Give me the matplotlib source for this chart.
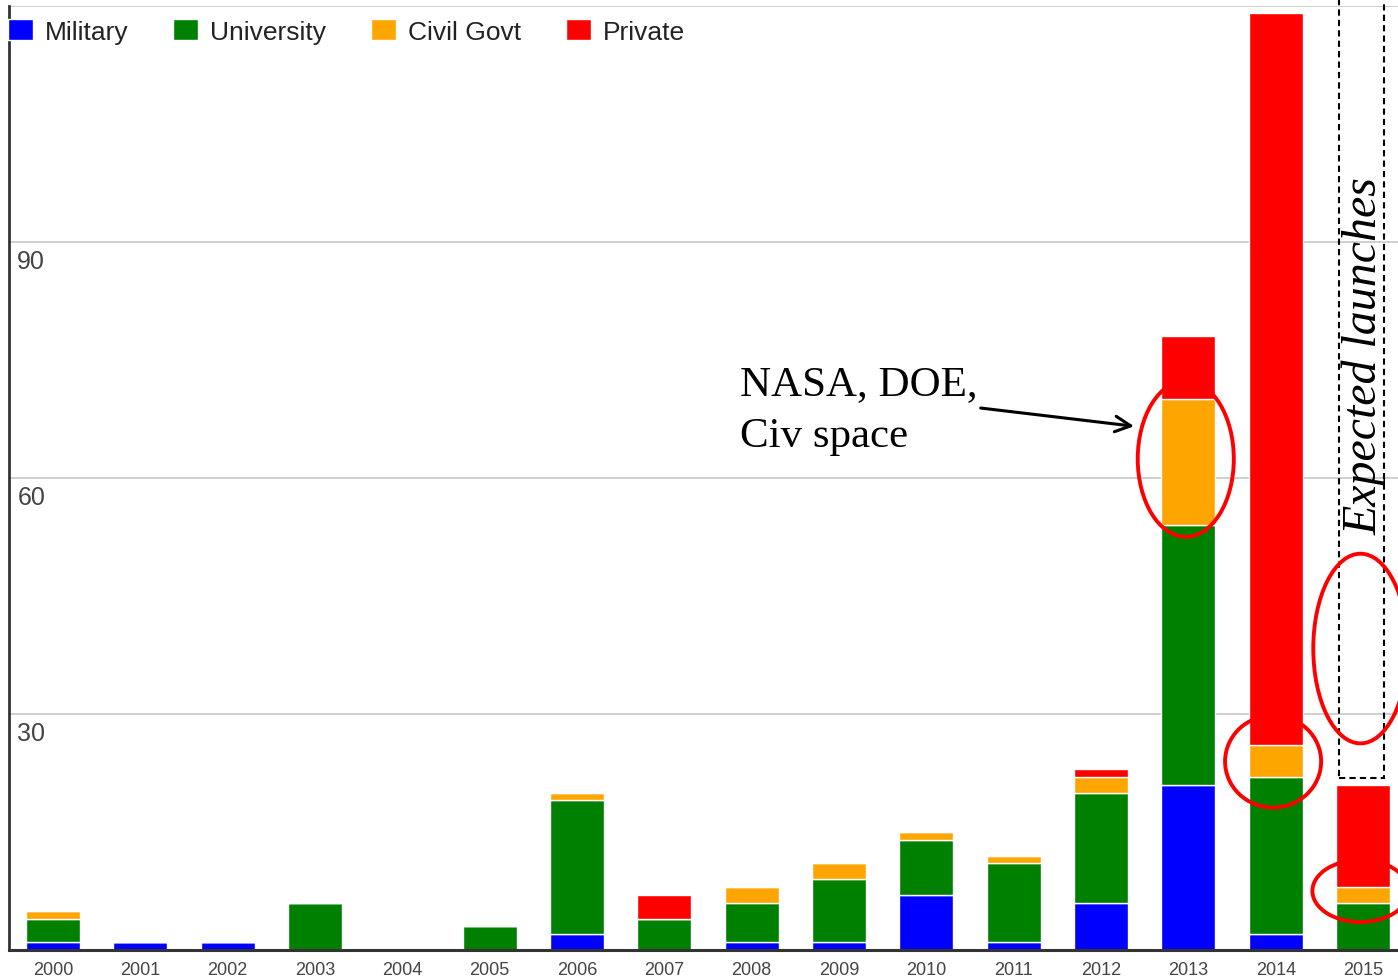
import matplotlib
matplotlib.use("Agg")
import matplotlib.pyplot as plt
from matplotlib.patches import Ellipse, Rectangle

years = ["2000", "2001", "2002", "2003", "2004", "2005", "2006", "2007",
         "2008", "2009", "2010", "2011", "2012", "2013", "2014", "2015"]
military   = [1, 1, 1, 0, 0, 0, 2, 0, 1, 1, 7, 1, 6, 21, 2, 0]
university = [3, 0, 0, 6, 0, 3, 17, 4, 5, 8, 7, 10, 14, 33, 20, 6]
civil_govt = [1, 0, 0, 0, 0, 0, 1, 0, 2, 2, 1, 1, 2, 16, 4, 2]
private    = [0, 0, 0, 0, 0, 0, 0, 3, 0, 0, 0, 0, 1, 8, 93, 13]
series_names = ["Military", "University", "Civil Govt", "Private"]
series_colors = ["#0000ff", "#008000", "#ffa500", "#ff0000"]
y_ticks = [30, 60, 90, 120]
y_tick_labels = ["30", "60", "90", ""]

plt.rcParams['font.family'] = ['Liberation Sans', 'DejaVu Sans']

fig = plt.figure(figsize=(13.98, 9.79), dpi=100)
ax = fig.add_axes([9/1398, 28/979, 1 - 9/1398, (951.5-7)/979])

x = list(range(len(years)))
bottom = [0]*len(years)
handles = []
for vals, name, col in zip([military, university, civil_govt, private], series_names, series_colors):
    b = ax.bar(x, vals, width=0.62, bottom=bottom, color=col, edgecolor="white",
               linewidth=1.0, label=name, zorder=3)
    handles.append(b)
    bottom = [bb + v for bb, v in zip(bottom, vals)]

ax.set_xlim(-0.504, 15.4)
ax.set_ylim(0, 120)
ax.set_yticks(y_ticks)
ax.yaxis.grid(True, color="#cccccc", linewidth=1.3, zorder=0)
ax.tick_params(axis="y", length=0, labelleft=False)
for v, lab in zip(y_ticks, y_tick_labels):
    if lab:
        ax.text(0.006, v - 2.4, lab, transform=ax.get_yaxis_transform(),
                ha="left", va="center", fontsize=18, color="#444444")

ax.set_xticks(x)
ax.set_xticklabels(years, fontsize=13, color="#444444")
ax.tick_params(axis="x", length=0, pad=8)

for s in ["top", "right"]:
    ax.spines[s].set_visible(False)
ax.spines["bottom"].set_color("#333333")
ax.spines["bottom"].set_linewidth(2.2)
ax.spines["left"].set_color("#333333")
ax.spines["left"].set_linewidth(2.0)
ax.spines["bottom"].set_zorder(4)

leg = ax.legend(handles=handles, loc="center left", bbox_to_anchor=(-0.001, 0.9725),
                ncol=4, frameon=False, fontsize=19, handlelength=0.95, handleheight=0.8,
                handletextpad=0.45, columnspacing=1.7, borderaxespad=0, borderpad=0)
for t in leg.get_texts():
    t.set_color("#222222")

# annotations
ax.text(7.87, 74.4, "NASA, DOE,\nCiv space", fontsize=31, family="Liberation Serif",
        ha="left", va="top", linespacing=1.45, zorder=6)
ax.annotate("", xy=(12.41, 66.5), xytext=(10.59, 68.9),
            arrowprops=dict(arrowstyle="->", color="black", lw=2.2, mutation_scale=28),
            zorder=6)

ell_specs = [(12.97, 62.4, 1.10, 19.8), (13.97, 23.95, 1.10, 11.7),
             (14.97, 38.3, 1.08, 24.1), (14.97, 7.5, 1.10, 7.9)]
for cx, cy, w, h in ell_specs:
    ax.add_patch(Ellipse((cx, cy), w, h, fill=False, edgecolor="#ff0000",
                         linewidth=2.8, zorder=7))

ax.add_patch(Rectangle((14.725, 21.9), 0.515, 110, fill=False, edgecolor="black",
                       linestyle=(0, (3, 2)), linewidth=1.5, zorder=6, clip_on=False))
ax.text(15.02, 75.6, "Expected launches", rotation=90, fontsize=34.5,
        family="Liberation Serif", style="italic", ha="center", va="center", zorder=6)

fig.savefig("out.png", dpi=100)
